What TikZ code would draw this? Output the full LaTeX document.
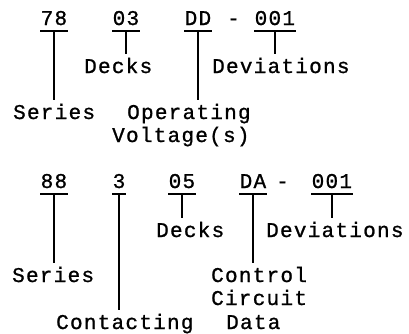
\documentclass[tikz,border=0pt]{standalone}
\usepackage{fontspec}
\newfontfamily\typew[LetterSpace=6,FakeBold=1]{Liberation Mono}
\usepackage{tikz}
\tikzstyle{code}=[anchor=base west,inner xsep=0.5pt,inner ysep=6pt,text depth=0pt,font=\typew\fontsize{21}{23}\selectfont]
\tikzstyle{lbl}=[anchor=base west,inner xsep=0pt,inner ysep=4pt,font=\typew\fontsize{21}{23}\selectfont]
\tikzstyle{tick}=[line width=1.5pt,black]

\begin{document}
\begin{tikzpicture}[x=1pt,y=-1pt]
  \useasboundingbox (0,0) rectangle (409,333);

  % upper part number
  \node[code] (s1) at (40,25) {78};
  \node[code] (k1) at (112,25) {03};
  \node[code] (v1) at (184,25) {DD};
  \node[lbl] (h1) at (227,25) {-};
  \node[code] (d1) at (254,25) {001};
  \node[lbl] (ls1) at (13,119) {Series};
  \node[lbl] (lk1) at (84,73) {Decks};
  \node[lbl] (lv1) at (127,119) {Operating};
  \node[lbl] (lv1b) at (112,142) {Voltage(s)};
  \node[lbl] (ld1) at (212,73) {Deviations};

  % lower part number
  \node[code] (s2) at (40,188) {88};
  \node[code] (c2) at (112,188) {3};
  \node[code] (k2) at (168,188) {05};
  \node[code] (a2) at (239,188) {DA};
  \node[lbl] (h2) at (276,188) {-};
  \node[code] (d2) at (311,188) {001};
  \node[lbl] (ls2) at (12,282) {Series};
  \node[lbl] (lc2) at (56,329) {Contacting};
  \node[lbl] (lk2) at (156,237) {Decks};
  \node[lbl] (la2) at (211,282) {Control};
  \node[lbl] (la2b) at (211,305) {Circuit};
  \node[lbl] (la2c) at (226,329) {Data};
  \node[lbl] (ld2) at (266,237) {Deviations};

  \foreach \c/\l in {s1/ls1,k1/lk1,v1/lv1,d1/ld1,s2/ls2,c2/lc2,k2/lk2,a2/la2,d2/ld2}{
    \draw[tick] (\c.south west) -- (\c.south east);
    \draw[tick] (\c.south) -- (\c.south |- \l.north);
  }
\end{tikzpicture}
\end{document}
